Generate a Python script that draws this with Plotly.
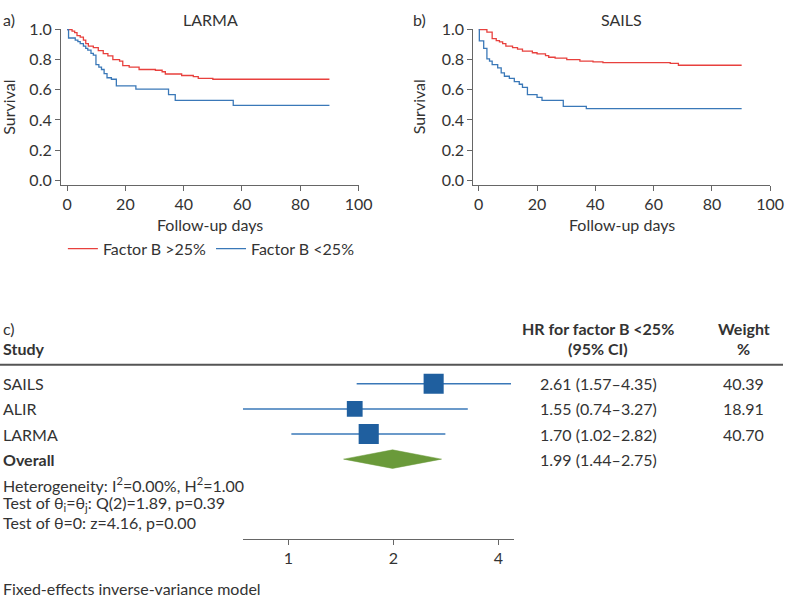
import math
import plotly.graph_objects as go

# ---------------- data ----------------
larma_hi_t = [0, 1.7, 2.6, 3.4, 4.5, 5.6, 6.4, 7.3, 9.0, 10.7, 12.4, 14.0, 15.7, 18.0, 19.1, 21.3, 24.7, 30.3, 32.6, 33.7, 39.3, 43.3, 45.0, 50.0, 90.0]
larma_hi_s = [1.0, 0.99, 0.98, 0.96, 0.95, 0.93, 0.907, 0.89, 0.88, 0.86, 0.84, 0.825, 0.80, 0.79, 0.76, 0.75, 0.735, 0.73, 0.72, 0.705, 0.695, 0.687, 0.676, 0.67, 0.67]
larma_lo_t = [0, 0.5, 2.8, 3.7, 4.5, 5.6, 6.4, 7.1, 8.2, 9.0, 9.9, 10.9, 11.8, 12.7, 13.7, 15.2, 16.9, 23.6, 34.8, 37.1, 57.0, 90.0]
larma_lo_s = [1.0, 0.944, 0.93, 0.92, 0.907, 0.89, 0.875, 0.864, 0.842, 0.83, 0.767, 0.75, 0.735, 0.708, 0.68, 0.67, 0.626, 0.605, 0.568, 0.53, 0.497, 0.497]

sails_hi_t = [0, 2.8, 4.6, 6.0, 7.1, 8.2, 9.3, 11.6, 13.3, 15.0, 18.4, 20.0, 22.9, 24.0, 26.2, 30.2, 34.7, 39.2, 42.6, 65.7, 68.5, 90.2]
sails_hi_s = [1.0, 0.983, 0.94, 0.927, 0.918, 0.907, 0.89, 0.88, 0.87, 0.857, 0.846, 0.838, 0.827, 0.816, 0.81, 0.80, 0.79, 0.785, 0.78, 0.775, 0.763, 0.763]
sails_lo_t = [0, 0.2, 1.7, 2.8, 3.7, 4.6, 6.5, 7.7, 8.8, 10.5, 12.2, 13.9, 15.0, 16.7, 20.0, 21.7, 29.0, 36.9, 90.2]
sails_lo_s = [1.0, 0.925, 0.875, 0.805, 0.79, 0.767, 0.745, 0.713, 0.69, 0.676, 0.654, 0.637, 0.616, 0.568, 0.55, 0.53, 0.49, 0.475, 0.475]

series_names = ["Factor B >25%", "Factor B <25%"]
panel_titles = ["LARMA", "SAILS"]
panel_labels = ["a)", "b)"]

studies = ["SAILS", "ALIR", "LARMA"]
hr = [2.61, 1.55, 1.70]
ci_lo = [1.57, 0.74, 1.02]
ci_hi = [4.35, 3.27, 2.82]
weights = [40.39, 18.91, 40.70]
overall_label = "Overall"
overall_hr = 1.99
overall_lo = 1.44
overall_hi = 2.75
forest_ticks = [1, 2, 4]
stats_lines = [
    "Heterogeneity: I<sup>2</sup>=0.00%, H<sup>2</sup>=1.00",
    "Test of θ<sub>i</sub>=θ<sub>j</sub>: Q(2)=1.89, p=0.39",
    "Test of θ=0: z=4.16, p=0.00",
]
model_note = "Fixed-effects inverse-variance model"

# ---------------- style ----------------
W, H = 797, 604
FONT = "Lato, 'Noto Sans', sans-serif"
TXT = "#333333"
AXC = "#666666"
RED = "#e8403d"
BLUE = "#3a78b8"
BOX = "#1f5f9f"
GREEN = "#6a9a3a"
FS = 16


def px(x):
    return x / W


def py(y):
    return 1 - y / H


fig = go.Figure()

km = [
    (larma_hi_t, larma_hi_s, larma_lo_t, larma_lo_s, "x", "y"),
    (sails_hi_t, sails_hi_s, sails_lo_t, sails_lo_s, "x2", "y2"),
]
for i, (th, sh, tl, sl, xa, ya) in enumerate(km):
    fig.add_trace(go.Scatter(x=th, y=sh, mode="lines", line=dict(color=RED, width=1.3, shape="hv"),
                             name=series_names[0], legendgroup="hi", showlegend=(i == 0), xaxis=xa, yaxis=ya))
    fig.add_trace(go.Scatter(x=tl, y=sl, mode="lines", line=dict(color=BLUE, width=1.3, shape="hv"),
                             name=series_names[1], legendgroup="lo", showlegend=(i == 0), xaxis=xa, yaxis=ya))

rows = list(range(len(studies)))
for r, lo, hi in zip(rows, ci_lo, ci_hi):
    fig.add_trace(go.Scatter(x=[lo, hi], y=[r, r], mode="lines", line=dict(color=BLUE, width=1.5),
                             showlegend=False, xaxis="x3", yaxis="y3", hoverinfo="skip"))
fig.add_trace(go.Scatter(x=hr, y=rows, mode="markers",
                         marker=dict(symbol="square", color=BOX, opacity=1, size=[12 + 0.2 * w for w in weights],
                                     line=dict(width=0)),
                         showlegend=False, xaxis="x3", yaxis="y3"))
orow = len(studies)
dh = 0.37
fig.add_trace(go.Scatter(x=[overall_lo, overall_hr, overall_hi, overall_hr, overall_lo],
                         y=[orow, orow - dh, orow, orow + dh, orow],
                         mode="lines", fill="toself", fillcolor=GREEN, line=dict(color=GREEN, width=0.5),
                         showlegend=False, xaxis="x3", yaxis="y3"))

ax_common = dict(showgrid=False, zeroline=False, showline=True, linecolor=AXC, linewidth=1,
                 ticks="outside", ticklen=5, tickcolor=AXC, tickwidth=1,
                 tickfont=dict(size=FS, color=TXT, family=FONT))

ydom = [py(180), py(20)]
fig.update_layout(
    width=W, height=H, margin=dict(l=0, r=0, t=0, b=0),
    paper_bgcolor="white", plot_bgcolor="white",
    font=dict(family=FONT, size=FS, color=TXT),
    xaxis=dict(domain=[px(62), px(365)], range=[-2.12, 100], tickvals=[0, 20, 40, 60, 80, 100], anchor="y", **ax_common),
    yaxis=dict(domain=ydom, range=[-0.0325, 1.0065], tickvals=[0, 0.2, 0.4, 0.6, 0.8, 1.0], tickformat=".1f", anchor="x", **ax_common),
    xaxis2=dict(domain=[px(481.7), px(784)], range=[-1.89, 100], tickvals=[0, 20, 40, 60, 80, 100], anchor="y2", **ax_common),
    yaxis2=dict(domain=ydom, range=[-0.0325, 1.0065], tickvals=[0, 0.2, 0.4, 0.6, 0.8, 1.0], tickformat=".1f", anchor="x2", **ax_common),
    xaxis3=dict(domain=[px(247.3), px(523.3)], type="log", range=[math.log10(0.741), math.log10(4.44)],
                tickvals=forest_ticks, ticktext=[str(t) for t in forest_ticks], anchor="y3", **ax_common),
    yaxis3=dict(domain=[py(541.7), py(364)], range=[6.18, -0.74], visible=False, anchor="x3"),
    legend=dict(orientation="h", x=px(64), y=py(245), xanchor="left", yanchor="middle",
                font=dict(size=FS, color=TXT, family=FONT), bgcolor="rgba(0,0,0,0)",
                itemwidth=30, tracegroupgap=0),
    showlegend=True,
)

ann = []


def A(text, x, y, xanchor="center", yref="paper", bold=False, angle=0, size=FS):
    ann.append(dict(text=("<b>%s</b>" % text) if bold else text, x=x, y=y, xref="paper", yref=yref,
                    xanchor=xanchor, yanchor="middle", showarrow=False, textangle=angle,
                    font=dict(size=size, color=TXT, family=FONT)))


A(panel_labels[0], px(1), py(11), xanchor="left")
A(panel_titles[0], px(214), py(11))
A(panel_labels[1], px(418), py(11), xanchor="left")
A(panel_titles[1], px(633), py(11))
A("Survival", px(9), py(100), angle=-90)
A("Survival", px(426), py(100), angle=-90)
A("Follow-up days", px(214), py(220))
A("Follow-up days", px(633), py(220))

A("c)", px(1), py(327), xanchor="left")
A("Study", px(1), py(347), xanchor="left", bold=True)
A("HR for factor B <25%", px(609), py(327), bold=True)
A("(95% CI)", px(609), py(347), bold=True)
A("Weight", px(757), py(327), bold=True)
A("%", px(757), py(347), bold=True)

for r, s, h, lo, hi, w in zip(rows, studies, hr, ci_lo, ci_hi, weights):
    A(s, px(1), r, xanchor="left", yref="y3")
    A("%.2f (%.2f–%.2f)" % (h, lo, hi), px(609), r, yref="y3")
    A("%.2f" % w, px(757), r, yref="y3")
A(overall_label, px(1), orow, xanchor="left", yref="y3", bold=True)
A("%.2f (%.2f–%.2f)" % (overall_hr, overall_lo, overall_hi), px(609), orow, yref="y3")

for i, line in enumerate(stats_lines):
    A(line, px(1), py(486 + 19.5 * i), xanchor="left")
A(model_note, px(1), py(592), xanchor="left")

fig.update_layout(annotations=ann)
fig.add_shape(type="line", xref="paper", yref="paper", x0=0, x1=1, y0=py(363.5), y1=py(363.5),
              line=dict(color="#555555", width=2))

post = (
    "document.documentElement.style.margin='0px';"
    "document.body.style.margin='0px';"
    "document.body.style.overflow='hidden';"
    "var gd=document.getElementById('{plot_id}');"
    "gd.style.position='fixed';gd.style.left='0px';gd.style.top='0px';"
)
fig.write_html("out.html", config={"displayModeBar": False}, post_script=post)
